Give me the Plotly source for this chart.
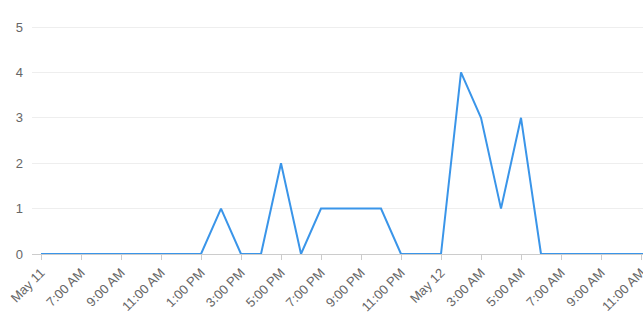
import plotly.graph_objects as go

times = [
    "2024-05-11 05:00", "2024-05-11 06:00", "2024-05-11 07:00", "2024-05-11 08:00",
    "2024-05-11 09:00", "2024-05-11 10:00", "2024-05-11 11:00", "2024-05-11 12:00",
    "2024-05-11 13:00", "2024-05-11 14:00", "2024-05-11 15:00", "2024-05-11 16:00",
    "2024-05-11 17:00", "2024-05-11 18:00", "2024-05-11 19:00", "2024-05-11 20:00",
    "2024-05-11 21:00", "2024-05-11 22:00", "2024-05-11 23:00", "2024-05-12 00:00",
    "2024-05-12 01:00", "2024-05-12 02:00", "2024-05-12 03:00", "2024-05-12 04:00",
    "2024-05-12 05:00", "2024-05-12 06:00", "2024-05-12 07:00", "2024-05-12 08:00",
    "2024-05-12 09:00", "2024-05-12 10:00", "2024-05-12 11:00", "2024-05-12 12:00",
]
values = [0, 0, 0, 0, 0, 0, 0, 0, 0, 1, 0, 0, 2, 0, 1, 1,
          1, 1, 0, 0, 0, 4, 3, 1, 3, 0, 0, 0, 0, 0, 0, 0]

tick_vals = [
    "2024-05-11 05:00", "2024-05-11 07:00", "2024-05-11 09:00", "2024-05-11 11:00",
    "2024-05-11 13:00", "2024-05-11 15:00", "2024-05-11 17:00", "2024-05-11 19:00",
    "2024-05-11 21:00", "2024-05-11 23:00", "2024-05-12 01:00", "2024-05-12 03:00",
    "2024-05-12 05:00", "2024-05-12 07:00", "2024-05-12 09:00", "2024-05-12 11:00",
]
tick_text = ["May 11", "7:00 AM", "9:00 AM", "11:00 AM", "1:00 PM", "3:00 PM",
             "5:00 PM", "7:00 PM", "9:00 PM", "11:00 PM", "May 12", "3:00 AM",
             "5:00 AM", "7:00 AM", "9:00 AM", "11:00 AM"]

fig = go.Figure(go.Scatter(
    x=times, y=values, mode="lines",
    line=dict(color="#3a95e9", width=2),
    hoverinfo="x+y",
))

fig.update_layout(
    width=643, height=324,
    margin=dict(l=32, r=0, t=25, b=70, autoexpand=False),
    paper_bgcolor="white", plot_bgcolor="white",
    font=dict(family="Liberation Sans, Arial, sans-serif", size=13, color="#666666"),
    showlegend=False,
    xaxis=dict(
        range=["2024-05-11 04:33", "2024-05-12 11:06"],
        tickvals=tick_vals, ticktext=tick_text, tickangle=-45,
        ticklabeloverflow="allow", automargin=False,
        showgrid=False, showline=True, linecolor="#cccccc", linewidth=1,
        ticks="outside", ticklen=5, tickcolor="#cccccc",
        zeroline=False,
    ),
    yaxis=dict(
        range=[0, 5.045], tickvals=[0, 1, 2, 3, 4, 5], automargin=False,
        showgrid=True, gridcolor="#eeeeee", gridwidth=1,
        zeroline=False, showline=False, ticks="", ticklabelstandoff=8,
    ),
)

fig.write_html("out.html")
